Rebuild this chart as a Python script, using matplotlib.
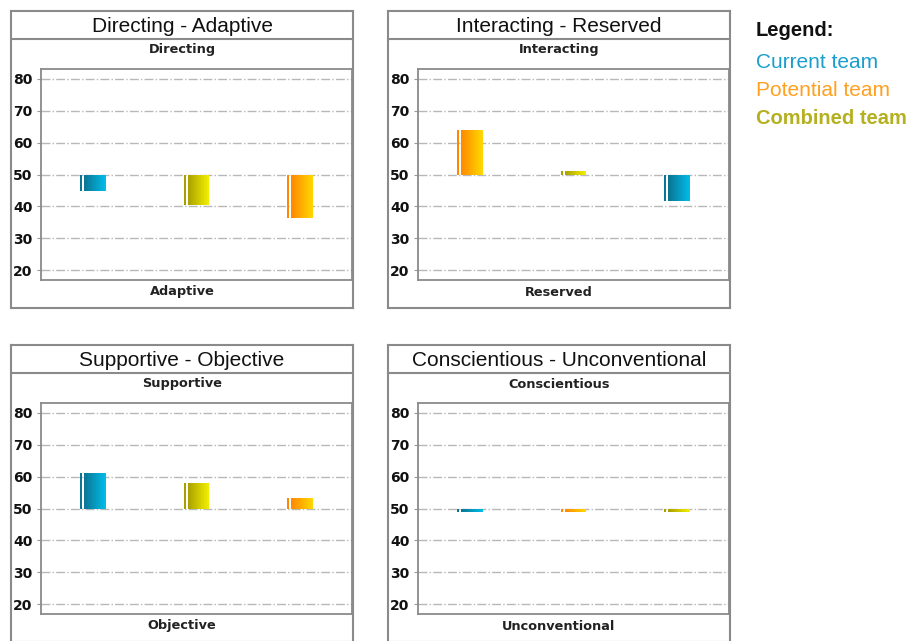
import numpy as np
import matplotlib.pyplot as plt
from matplotlib.colors import to_rgb

W, H = 917, 641

titles = ["Directing - Adaptive", "Interacting - Reserved",
          "Supportive - Objective", "Conscientious - Unconventional"]
top_labels = ["Directing", "Interacting", "Supportive", "Conscientious"]
bottom_labels = ["Adaptive", "Reserved", "Objective", "Unconventional"]

# bar order and values per panel (values measured against the 50 midline)
series_order = [
    ["current", "combined", "potential"],
    ["potential", "combined", "current"],
    ["current", "combined", "potential"],
    ["current", "potential", "combined"],
]
series_values = [
    [44.8, 40.5, 36.5],
    [63.9, 51.0, 41.8],
    [61.0, 58.0, 53.2],
    [49.0, 49.0, 49.0],
]
yticks = [20, 30, 40, 50, 60, 70, 80]

grad = {
    "current": ("#0b7595", "#00bce8"),
    "combined": ("#a8a000", "#f4f000"),
    "potential": ("#ff8800", "#ffd800"),
}
legend_names = ["Current team", "Potential team", "Combined team"]
legend_colors = ["#1a9fcc", "#ffa020", "#b4b020"]


def px(x, y, w, h):
    return [x / W, 1 - (y + h) / H, w / W, h / H]


def draw_bar(ax, xc, val, kind, width=0.25, n=30):
    c0 = np.array(to_rgb(grad[kind][0]))
    c1 = np.array(to_rgb(grad[kind][1]))
    left = xc - width / 2
    stripe = width * 0.08
    gap = width * 0.08
    h = val - 50
    ax.bar(left + stripe / 2, h, width=stripe, bottom=50, color=c0, lw=0, zorder=3)
    x0 = left + stripe + gap
    main_w = width - stripe - gap
    sw = main_w / n
    xs = x0 + sw * (np.arange(n) + 0.5)
    cols = [c0 + (c1 - c0) * t for t in np.linspace(0, 1, n)]
    ax.bar(xs, h, width=sw * 1.05, bottom=50, color=cols, lw=0, zorder=3)


fig = plt.figure(figsize=(W / 100, H / 100), dpi=100)

boxes = [(11, 11), (388, 11), (11, 345), (388, 345)]
for i, (bx, by) in enumerate(boxes):
    outer_h = 297
    frame = fig.add_axes(px(bx, by, 342, outer_h))
    frame.set_xticks([])
    frame.set_yticks([])
    frame.set_xlim(0, 1)
    frame.set_ylim(0, 1)
    for s in frame.spines.values():
        s.set_color("#8a8a8a")
        s.set_linewidth(1.5)
    frame.axhline(1 - 28 / outer_h, color="#8a8a8a", lw=1.5)
    frame.text(0.5, 1 - 15.5 / outer_h, titles[i], ha="center", va="center",
               fontsize=15, family="Liberation Sans", color="#111111")
    frame.text(0.5, 1 - 39 / outer_h, top_labels[i], ha="center", va="center",
               fontsize=9.3, fontweight="bold", family="DejaVu Sans", color="#222222")
    frame.text(0.5, 1 - 281 / outer_h, bottom_labels[i], ha="center", va="center",
               fontsize=9.3, fontweight="bold", family="DejaVu Sans", color="#222222")

    ax = fig.add_axes(px(bx + 30, by + 58, 311, 211))
    ax.set_xlim(0, 3)
    ax.set_ylim(16.9, 83.1)
    ax.set_xticks([])
    ax.set_yticks(yticks)
    ax.set_yticklabels([str(t) for t in yticks], fontweight="bold",
                       fontsize=10, family="DejaVu Sans", color="#111111")
    ax.tick_params(axis="y", length=3, color="#999999", pad=3)
    ax.grid(axis="y", color="#b8b8b8", ls="-.", lw=1, zorder=1)
    for s in ax.spines.values():
        s.set_color("#8a8a8a")
        s.set_linewidth(1.3)
    for j, (kind, v) in enumerate(zip(series_order[i], series_values[i])):
        draw_bar(ax, j + 0.5, v, kind)

fig.text(756 / W, 1 - 31 / H, "Legend:", fontsize=14.5, fontweight="bold",
         family="Liberation Sans", color="#111111", va="center")
for k, (name, col) in enumerate(zip(legend_names, legend_colors)):
    fig.text(756 / W, 1 - (62 + 28.5 * k) / H, name,
             fontsize=14.5 if k == 2 else 15,
             family="Liberation Sans", color=col, va="center",
             fontweight="bold" if k == 2 else "normal")

fig.savefig("out.png", dpi=100)
